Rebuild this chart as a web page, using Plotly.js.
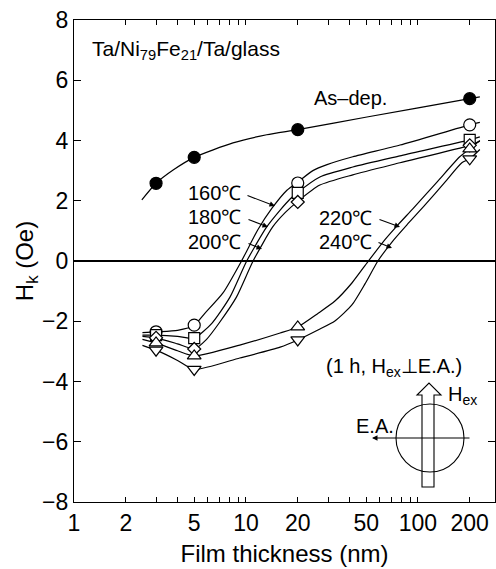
<!DOCTYPE html>
<html><head><meta charset="utf-8">
<script src="https://cdn.plot.ly/plotly-3.0.1.min.js"></script>
<style>html,body{margin:0;padding:0;background:#fff}</style>
</head><body><div id="chart" style="width:496px;height:569px"></div>
<script>
// ---- measured data points ----
const thickness = [3, 5, 20, 200];
const hkAsDep = [2.58, 3.44, 4.36, 5.39];
const hk160 = [-2.35, -2.13, 2.59, 4.52];
const hk180 = [-2.46, -2.56, 2.26, 4.02];
const hk200 = [-2.55, -2.92, 1.96, 3.84];
const hk220 = [-2.72, -3.15, -2.19, 3.72];
const hk240 = [-2.96, -3.60, -2.62, 3.39];

// ---- drawn guide curves ----
const curveAsDepX = [2.48, 3, 3.77, 5, 8.4, 13.2, 20, 50.5, 200, 229];
const curveAsDepY = [2.03, 2.58, 3.02, 3.44, 3.92, 4.19, 4.36, 4.78, 5.39, 5.45];
const curve160X = [2.5, 3, 4, 5, 5.78, 7.35, 9.48, 11.7, 14.2, 17.3, 20, 24.5, 29.6, 41.8, 78.6, 200, 229];
const curve160Y = [-2.38, -2.35, -2.3, -2.13, -1.73, -1.06, 0.03, 1.03, 1.76, 2.35, 2.62, 3.0, 3.2, 3.46, 3.85, 4.52, 4.6];
const curve180X = [2.5, 3, 4, 5, 6.35, 8.07, 10.1, 13.2, 15.8, 18.0, 20, 26.9, 41.8, 78.6, 200, 229];
const curve180Y = [-2.46, -2.46, -2.5, -2.56, -2.06, -1.2, 0, 1.13, 1.69, 2.05, 2.28, 2.79, 3.12, 3.49, 4.02, 4.12];
const curve200X = [2.5, 3, 4, 5, 5.9, 7.0, 8.8, 11.0, 14.3, 17, 20, 26.9, 41.8, 78.6, 200, 229];
const curve200Y = [-2.5, -2.55, -2.75, -2.92, -2.6, -2.05, -1.2, 0, 1.13, 1.62, 1.98, 2.52, 2.86, 3.26, 3.84, 3.98];
const curve220X = [2.5, 3, 4, 5, 9.2, 15.8, 20, 26.2, 32.9, 41.3, 51.2, 64.3, 76.5, 93.6, 129, 175, 200, 229];
const curve220Y = [-2.6, -2.72, -2.98, -3.15, -2.79, -2.39, -2.19, -1.74, -1.33, -0.73, -0.02, 0.71, 1.20, 1.74, 2.62, 3.46, 3.72, 4.0];
const curve240X = [2.5, 3, 4, 5, 9.2, 15.8, 20, 26.2, 32.9, 41.3, 49.2, 58.5, 70.6, 86.3, 110, 143.6, 180, 200, 229];
const curve240Y = [-2.8, -2.96, -3.3, -3.6, -3.22, -2.86, -2.62, -2.29, -1.99, -1.46, -0.76, 0, 0.63, 1.20, 1.86, 2.62, 3.26, 3.39, 3.7];

// ---- tick labels ----
const xTickVals = [1, 2, 5, 10, 20, 50, 100, 200];
const xTickText = ['1', '2', '5', '10', '20', '50', '100', '200'];
const yTickVals = [-8, -6, -4, -2, 0, 2, 4, 6, 8];

const FONT = 'Liberation Sans, Arial, Helvetica, sans-serif';
const L = 74, T = 20, W = 421, H = 482;
const P = x => (x - L) / W;
const Q = y => (T + H - y) / H;

function curve(x, y) {
  return {x: x, y: y, mode: 'lines', type: 'scatter', showlegend: false, hoverinfo: 'skip',
    line: {color: '#000', width: 1.2, shape: 'spline', smoothing: 0.6}};
}
function pts(y, sym, size, fill) {
  return {x: thickness, y: y, mode: 'markers', type: 'scatter', showlegend: false,
    marker: {symbol: sym, size: size, color: fill, line: {color: '#000', width: 1.2}}};
}

const traces = [
  curve(curveAsDepX, curveAsDepY),
  curve(curve160X, curve160Y),
  curve(curve180X, curve180Y),
  curve(curve200X, curve200Y),
  curve(curve220X, curve220Y),
  curve(curve240X, curve240Y),
  pts(hk160, 'circle', 12, '#fff'),
  pts(hk180, 'square', 11, '#fff'),
  pts(hk200, 'diamond', 10, '#fff'),
  pts(hk220, 'triangle-up', 12, '#fff'),
  pts(hk240, 'triangle-down', 12, '#fff'),
  pts(hkAsDep, 'circle', 12, '#000')
];

function txt(x, y, s, size) {
  return {xref: 'paper', yref: 'paper', x: P(x), y: Q(y), text: s, showarrow: false,
    xanchor: 'left', yanchor: 'middle', font: {family: FONT, size: size || 20, color: '#000'}};
}
function arr(hx, hy, ax, ay) {
  return {xref: 'paper', yref: 'paper', x: P(hx), y: Q(hy), ax: ax, ay: ay, text: '',
    showarrow: true, arrowhead: 2, arrowsize: 1, arrowwidth: 1.1, arrowcolor: '#000', standoff: 0};
}

const annotations = [
  txt(90, 50, 'Ta/Ni<sub>79</sub>Fe<sub>21</sub>/Ta/glass', 21),
  txt(312, 98, 'As\u2013dep.', 20),
  txt(186, 193, '160\u2103', 20),
  txt(186, 217, '180\u2103', 20),
  txt(186, 242, '200\u2103', 20),
  txt(317, 218, '220\u2103', 20),
  txt(317, 242, '240\u2103', 20),
  txt(324, 367, '(1 h, H<sub>ex</sub>\u22A5E.A.)', 20),
  txt(446, 395, 'H<sub>ex</sub>', 20),
  txt(354, 426, 'E.A.', 20),
  arr(275, 206, -29, -11),
  arr(268, 227, -21, -8),
  arr(262, 249, -15, -6),
  arr(400, 227, -22, -8),
  arr(392, 248, -15, -6),
  arr(372, 438, 99, 0)
];

// hollow arrow (H_ex) as pixel path converted to paper coords
const hollow = [[422, 487], [422, 395], [417, 395], [429, 383], [441, 395], [434, 395], [434, 487]];
const hollowPath = 'M ' + hollow.map(p => P(p[0]) + ',' + Q(p[1])).join(' L ') + ' Z';

const shapes = [
  {type: 'circle', xref: 'paper', yref: 'paper', x0: P(396), x1: P(464), y0: Q(472), y1: Q(404),
    line: {color: '#000', width: 1.1}},
  {type: 'path', xref: 'paper', yref: 'paper', path: hollowPath, line: {color: '#000', width: 1.1}}
];

const axisCommon = {showgrid: false, linecolor: '#000', linewidth: 1.2, showline: true,
  ticks: 'inside', tickcolor: '#000', tickwidth: 1, mirror: 'ticks'};

const layout = {
  width: 496, height: 569,
  margin: {l: L, r: 496 - L - W, t: T, b: 569 - T - H},
  paper_bgcolor: '#fff', plot_bgcolor: '#fff',
  font: {family: FONT, color: '#000'},
  xaxis: Object.assign({}, axisCommon, {
    type: 'log', range: [0, 2.448], tickmode: 'array', tickvals: xTickVals, ticktext: xTickText,
    ticklen: 5, zeroline: false,
    tickfont: {family: FONT, size: 23},
    minor: {dtick: 'D1', ticks: 'inside', ticklen: 5, tickcolor: '#000', tickwidth: 1},
    title: {text: 'Film thickness (nm)', font: {family: FONT, size: 24}, standoff: 10}
  }),
  xaxis2: {type: 'log', range: [0, 2.448], overlaying: 'x', anchor: 'y', side: 'bottom',
    tickmode: 'array', tickvals: [10, 100], showticklabels: false, ticks: 'inside', ticklen: 9,
    tickcolor: '#000', tickwidth: 1, showline: true, linecolor: '#000', linewidth: 1.2, mirror: 'ticks',
    showgrid: false, zeroline: false},
  yaxis: Object.assign({}, axisCommon, {
    range: [-8, 8], tickmode: 'array', tickvals: yTickVals, ticklen: 7,
    zeroline: true, zerolinecolor: '#000', zerolinewidth: 1.4,
    tickfont: {family: FONT, size: 23},
    title: {text: 'H<sub>k</sub> (Oe)', font: {family: FONT, size: 24}, standoff: 1}
  }),
  shapes: shapes,
  annotations: annotations
};

Plotly.newPlot('chart', traces, layout, {displayModeBar: false, staticPlot: true});
</script></body></html>
